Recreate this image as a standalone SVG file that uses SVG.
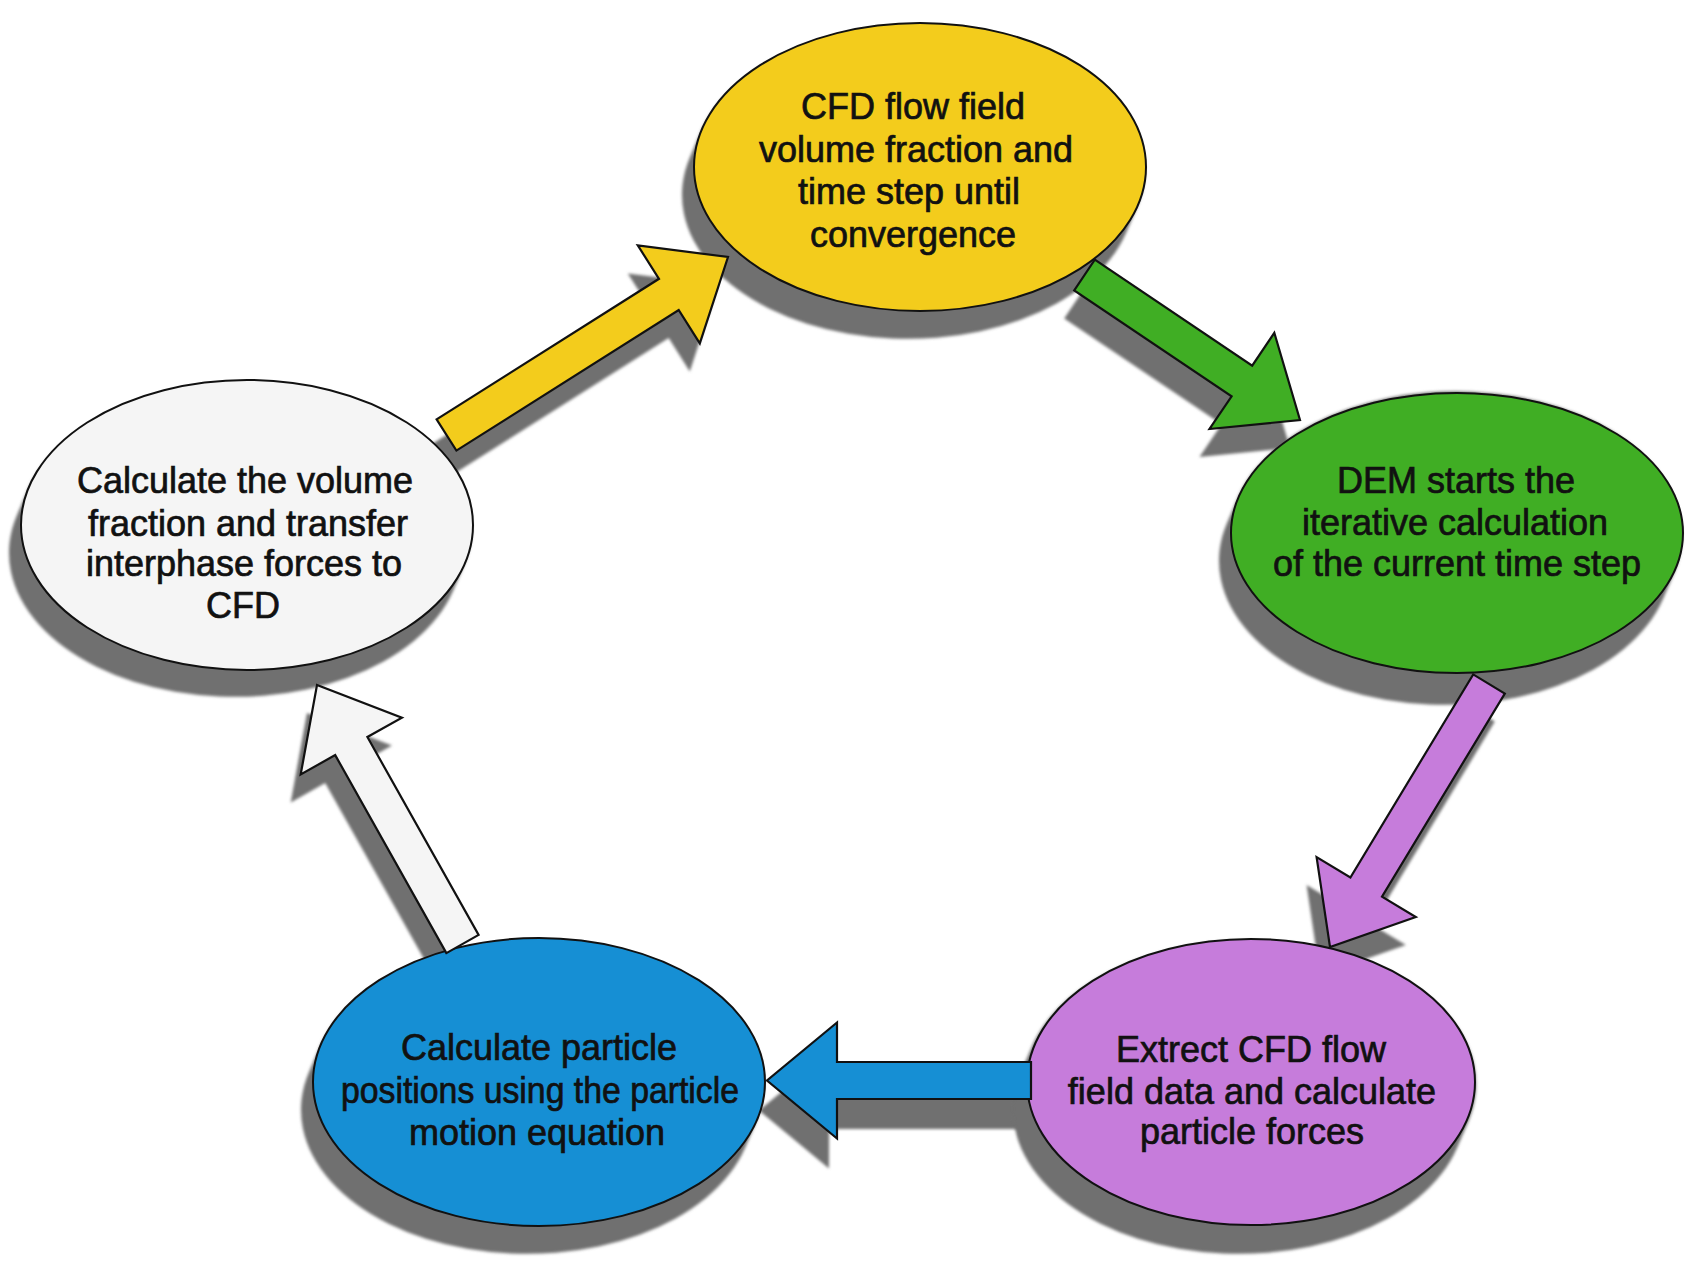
<svg xmlns="http://www.w3.org/2000/svg" xmlns:xlink="http://www.w3.org/1999/xlink" width="1697" height="1288" viewBox="0 0 1697 1288">
<style>
.bg{fill:#ffffff}
.shadow{fill:#707070;stroke:none;filter:url(#soft)}
.node{stroke:#111;stroke-width:2}
.arrow{stroke:#111;stroke-width:2.2;stroke-linejoin:miter}
.yellow{fill:#f3cc1c}
.green{fill:#40ae24}
.purple{fill:#c67cdb}
.blue{fill:#168fd4}
.white{fill:#f5f5f5}
.label{font-family:"Liberation Sans",Arial,sans-serif;font-size:36px;fill:#111;stroke:#111;stroke-width:0.7;text-anchor:middle}
</style>
<defs>
<filter id="soft" x="-10%" y="-10%" width="120%" height="120%"><feGaussianBlur stdDeviation="1.5"/></filter>
<path id="extr" d="M218,37.9 L206,65.9 A226,144 0 0 1 -230,-10.1 L-218,-37.9 A226,144 0 0 1 218,37.9 Z"/>
<path id="a-yellow" d="M436.6,419.4 L659.0,278.8 L637.8,245.4 L728,257 L699.8,343.4 L678.7,310.0 L456.4,450.6 Z"/>
<path id="a-green" d="M1094.8,259.7 L1252.2,365.6 L1274.3,332.8 L1300,420 L1209.5,429.0 L1231.6,396.3 L1074.2,290.4 Z"/>
<path id="a-purple" d="M1504.8,693.6 L1382.0,896.7 L1415.8,917.1 L1330,947 L1316.6,857.1 L1350.4,877.5 L1473.2,674.4 Z"/>
<path id="a-blue" d="M1031,1062 L837,1062 L837,1022.5 L767,1080.5 L837,1138.5 L837,1099 L1031,1099 Z"/>
<path id="a-white" d="M446.4,953.1 L335.2,755.1 L300.7,774.4 L317,685 L401.9,717.6 L367.4,737.0 L478.6,934.9 Z"/>
</defs>
<rect class="bg" x="0" y="0" width="1697" height="1288"/>
<g id="shadows">
<use xlink:href="#a-yellow" href="#a-yellow" class="shadow" transform="translate(-10,28)"/>
<use xlink:href="#a-green" href="#a-green" class="shadow" transform="translate(-10,28)"/>
<use xlink:href="#a-purple" href="#a-purple" class="shadow" transform="translate(-10,28)"/>
<use xlink:href="#a-blue" href="#a-blue" class="shadow" transform="translate(-8,30)"/>
<use xlink:href="#a-white" href="#a-white" class="shadow" transform="translate(-10,28)"/>
<use xlink:href="#extr" href="#extr" class="shadow" transform="translate(920,167)"/>
<use xlink:href="#extr" href="#extr" class="shadow" transform="translate(1457,533)"/>
<use xlink:href="#extr" href="#extr" class="shadow" transform="translate(247,525)"/>
<use xlink:href="#extr" href="#extr" class="shadow" transform="translate(539,1082)"/>
<use xlink:href="#extr" href="#extr" class="shadow" transform="translate(1251,1082)"/>
</g>
<g id="node-cfd">
<ellipse class="node yellow" cx="920" cy="167" rx="226" ry="144"/>
<text class="label"><tspan x="913" y="119">CFD flow field</tspan><tspan x="916" y="162">volume fraction and</tspan><tspan x="909" y="204">time step until</tspan><tspan x="913" y="247">convergence</tspan></text>
</g>
<g id="node-dem">
<ellipse class="node green" cx="1457" cy="533" rx="226" ry="140"/>
<text class="label"><tspan x="1456" y="493">DEM starts the</tspan><tspan x="1455" y="535">iterative calculation</tspan><tspan x="1457" y="576">of the current time step</tspan></text>
</g>
<g id="node-extract">
<ellipse class="node purple" cx="1251" cy="1082" rx="224" ry="143"/>
<text class="label"><tspan x="1251" y="1062">Extrect CFD flow</tspan><tspan x="1252" y="1104">field data and calculate</tspan><tspan x="1252" y="1144">particle forces</tspan></text>
</g>
<g id="node-positions">
<ellipse class="node blue" cx="539" cy="1082" rx="226" ry="144"/>
<text class="label"><tspan x="539" y="1060">Calculate particle</tspan><tspan x="540" y="1103" textLength="398" lengthAdjust="spacingAndGlyphs">positions using the particle</tspan><tspan x="537" y="1145">motion equation</tspan></text>
</g>
<g id="node-transfer">
<ellipse class="node white" cx="247" cy="525" rx="226" ry="145"/>
<text class="label"><tspan x="245" y="493">Calculate the volume</tspan><tspan x="248" y="536">fraction and transfer</tspan><tspan x="244" y="576">interphase forces to</tspan><tspan x="243" y="618">CFD</tspan></text>
</g>
<g id="connectors">
<use xlink:href="#a-yellow" href="#a-yellow" class="arrow yellow"/>
<use xlink:href="#a-green" href="#a-green" class="arrow green"/>
<use xlink:href="#a-purple" href="#a-purple" class="arrow purple"/>
<use xlink:href="#a-blue" href="#a-blue" class="arrow blue"/>
<use xlink:href="#a-white" href="#a-white" class="arrow white"/>
</g>
</svg>
